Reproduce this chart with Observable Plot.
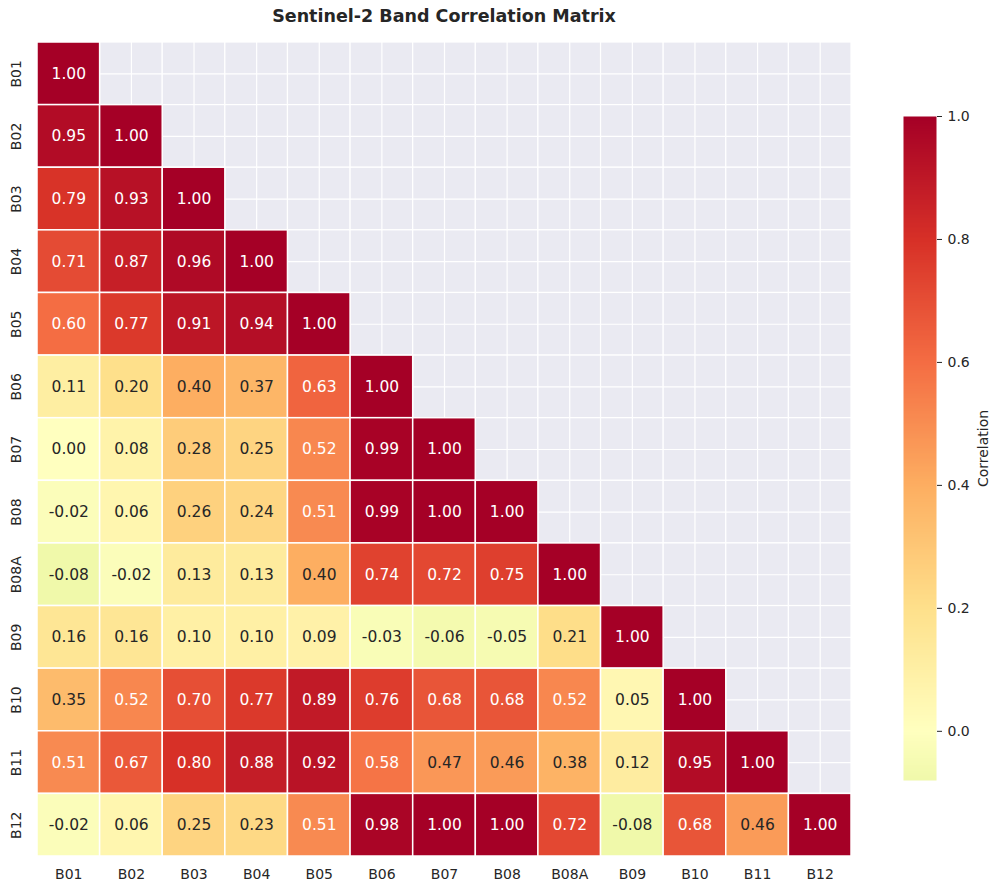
<!DOCTYPE html>
<html>
<head>
<meta charset="utf-8">
<script src="https://cdn.jsdelivr.net/npm/d3@7"></script>
<script src="https://cdn.jsdelivr.net/npm/@observablehq/plot@0.6"></script>
<style>
  html, body { margin: 0; padding: 0; background: #fff; }
  #wrap { position: relative; width: 1000px; height: 892px; font-family: "DejaVu Sans", sans-serif; }
  #title { position: absolute; left: 0; width: 888px; top: 6px; text-align: center; font-weight: bold; font-size: 17.5px; color: #262626; }
  #main { position: absolute; left: 0; top: 0; }
  #cbar { position: absolute; left: 860px; top: 0; }
</style>
</head>
<body>
<div id="wrap">
  <div id="title">Sentinel-2 Band Correlation Matrix</div>
  <div id="main"></div>
  <div id="cbar"></div>
</div>
<script>
// ---- data ----
const bands = ["B01","B02","B03","B04","B05","B06","B07","B08","B08A","B09","B10","B11","B12"];
const lowerTriangle = [
  [1.00],
  [0.95, 1.00],
  [0.79, 0.93, 1.00],
  [0.71, 0.87, 0.96, 1.00],
  [0.60, 0.77, 0.91, 0.94, 1.00],
  [0.11, 0.20, 0.40, 0.37, 0.63, 1.00],
  [0.00, 0.08, 0.28, 0.25, 0.52, 0.99, 1.00],
  [-0.02, 0.06, 0.26, 0.24, 0.51, 0.99, 1.00, 1.00],
  [-0.08, -0.02, 0.13, 0.13, 0.40, 0.74, 0.72, 0.75, 1.00],
  [0.16, 0.16, 0.10, 0.10, 0.09, -0.03, -0.06, -0.05, 0.21, 1.00],
  [0.35, 0.52, 0.70, 0.77, 0.89, 0.76, 0.68, 0.68, 0.52, 0.05, 1.00],
  [0.51, 0.67, 0.80, 0.88, 0.92, 0.58, 0.47, 0.46, 0.38, 0.12, 0.95, 1.00],
  [-0.02, 0.06, 0.25, 0.23, 0.51, 0.98, 1.00, 1.00, 0.72, -0.08, 0.68, 0.46, 1.00]
];
const colorbarTicks = [0.0, 0.2, 0.4, 0.6, 0.8, 1.0];
const colorRange = [-0.08, 1.0];

// RdYlGn_r centred at 0 (portion from -0.2 to 1)
const cmapStops = [-0.2, 0, 0.2, 0.4, 0.6, 0.8, 1.0];
const cmapColors = ["#d9ef8b", "#ffffbf", "#fee08b", "#fdae61", "#f46d43", "#d73027", "#a50026"];

const colorOpts = { type: "linear", domain: cmapStops, range: cmapColors, interpolate: "rgb", clamp: true };

// build table
const cells = [];
lowerTriangle.forEach((row, i) => row.forEach((v, j) => cells.push({ row: bands[i], col: bands[j], value: v })));
const allCells = [];
bands.forEach(r => bands.forEach(c => allCells.push({ row: r, col: c })));

const colorScale = Plot.scale({ color: colorOpts });
function lum(c) {
  const rgb = d3.rgb(c);
  const f = x => { x /= 255; return x <= 0.03928 ? x / 12.92 : Math.pow((x + 0.055) / 1.055, 2.4); };
  return 0.2126 * f(rgb.r) + 0.7152 * f(rgb.g) + 0.0722 * f(rgb.b);
}
cells.forEach(d => { d.dark = lum(colorScale.apply(d.value)) > 0.408; });

const fmt = d => d.value.toFixed(2);

const main = Plot.plot({
  width: 870,
  height: 892,
  marginLeft: 37,
  marginRight: 19,
  marginTop: 42,
  marginBottom: 36,
  style: { fontFamily: "DejaVu Sans, sans-serif", color: "#262626", background: "transparent" },
  x: { domain: bands, padding: 0, round: false, label: null },
  y: { domain: bands, padding: 0, round: false, label: null },
  color: colorOpts,
  marks: [
    Plot.cell(allCells, { x: "col", y: "row", fill: "#eaeaf2", stroke: "white", strokeWidth: 1.2, inset: 0 }),
    Plot.gridX(bands, { stroke: "white", strokeOpacity: 1, strokeWidth: 1.2 }),
    Plot.gridY(bands, { stroke: "white", strokeOpacity: 1, strokeWidth: 1.2 }),
    Plot.cell(cells, { x: "col", y: "row", fill: "value", stroke: "white", strokeWidth: 1.5, inset: 0 }),
    Plot.text(cells.filter(d => d.dark), { x: "col", y: "row", text: fmt, fill: "#262626", fontSize: 15.5 }),
    Plot.text(cells.filter(d => !d.dark), { x: "col", y: "row", text: fmt, fill: "white", fontSize: 15.5 }),
    Plot.axisX({ anchor: "bottom", tickSize: 0, tickPadding: 13, fontSize: 14, label: null }),
    Plot.axisY({ anchor: "left", tickSize: 0, tickPadding: 17, fontSize: 14, tickRotate: -90, textAnchor: "middle", label: null })
  ]
});
document.getElementById("main").appendChild(main);

const cbar = Plot.plot({
  width: 140,
  height: 892,
  marginLeft: 43,
  marginRight: 64,
  marginTop: 116,
  marginBottom: 112,
  style: { fontFamily: "DejaVu Sans, sans-serif", color: "#262626", background: "transparent" },
  x: { domain: [0, 1], axis: null },
  y: { domain: colorRange, label: null },
  color: colorOpts,
  marks: [
    Plot.raster({ x1: 0, x2: 1, y1: colorRange[0], y2: colorRange[1], width: 1, height: 400, fill: (x, y) => y, imageRendering: "auto" }),
    Plot.axisY(colorbarTicks, { anchor: "right", tickSize: 5, tickPadding: 6, fontSize: 14, tickFormat: d3.format(".1f"),
      label: "Correlation", labelAnchor: "center", labelArrow: "none", labelOffset: 51 })
  ]
});
document.getElementById("cbar").appendChild(cbar);
</script>
</body>
</html>
